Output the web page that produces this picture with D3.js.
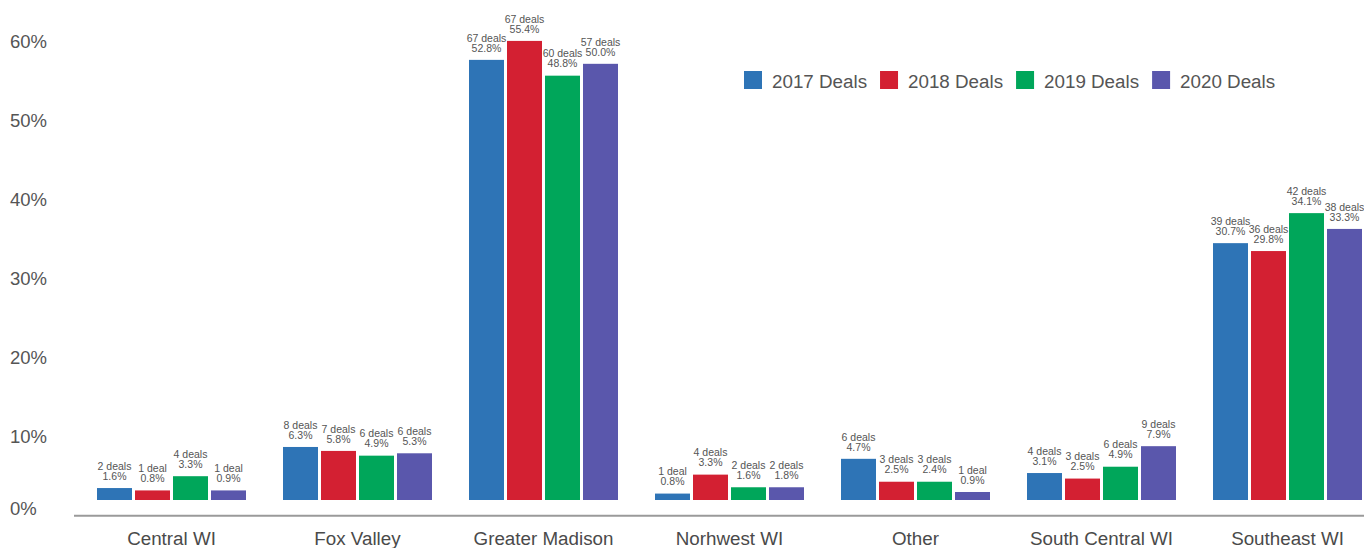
<!DOCTYPE html>
<html>
<head>
<meta charset="utf-8">
<script src="https://cdn.jsdelivr.net/npm/d3@7"></script>
<style>
  html, body { margin: 0; padding: 0; background: #ffffff; }
  svg { display: block; font-family: "Liberation Sans", Arial, Helvetica, sans-serif; }
</style>
</head>
<body>
<svg id="chart" width="1364" height="548"></svg>
<script>
// ---- data ----
const categories = ["Central WI", "Fox Valley", "Greater Madison", "Norhwest WI", "Other", "South Central WI", "Southeast WI"];
const seriesNames = ["2017 Deals", "2018 Deals", "2019 Deals", "2020 Deals"];
const seriesColors = ["#2e74b6", "#d32032", "#00a65a", "#5a57ac"];
const yTicks = [0, 10, 20, 30, 40, 50, 60];

// bar heights as read against the y axis (percent)
const bars2017 = [3.5, 8.7, 57.7, 2.8, 7.2, 5.4, 34.5];
const bars2018 = [3.2, 8.2, 60.1, 5.2, 4.3, 4.7, 33.5];
const bars2019 = [5.0, 7.6, 55.7, 3.6, 4.3, 6.2, 38.3];
const bars2020 = [3.2, 7.9, 57.2, 3.6, 3.0, 8.8, 36.3];

// deal counts and printed shares
const deals2017 = [2, 8, 67, 1, 6, 4, 39];
const deals2018 = [1, 7, 67, 4, 3, 3, 36];
const deals2019 = [4, 6, 60, 2, 3, 6, 42];
const deals2020 = [1, 6, 57, 2, 1, 9, 38];
const pct2017 = [1.6, 6.3, 52.8, 0.8, 4.7, 3.1, 30.7];
const pct2018 = [0.8, 5.8, 55.4, 3.3, 2.5, 2.5, 29.8];
const pct2019 = [3.3, 4.9, 48.8, 1.6, 2.4, 4.9, 34.1];
const pct2020 = [0.9, 5.3, 50.0, 1.8, 0.9, 7.9, 33.3];

const barSets = [bars2017, bars2018, bars2019, bars2020];
const dealSets = [deals2017, deals2018, deals2019, deals2020];
const pctSets = [pct2017, pct2018, pct2019, pct2020];

// ---- layout ----
const svg = d3.select("#chart");
const textColor = "#555555";

const x0 = d3.scaleBand().domain(categories).range([78.5, 1380.5]).paddingInner(0).paddingOuter(0);
const x1 = d3.scaleBand().domain(seriesNames).range([18.5, 167.5]).paddingInner(3 / 38).paddingOuter(0);
const y = d3.scaleLinear().domain([0, 60]).range([515.7, 41.7]);
const barBase = y(0) - 15.7;

// y tick labels
svg.append("g").selectAll("text")
  .data(yTicks)
  .join("text")
  .attr("x", 10)
  .attr("y", d => d === 0 ? y(d) - 6.7 : y(d))
  .attr("dy", "0.35em")
  .attr("font-size", 18.5)
  .attr("fill", textColor)
  .text(d => d + "%");

// axis line
svg.append("line")
  .attr("x1", 74).attr("x2", 1364)
  .attr("y1", y(0)).attr("y2", y(0))
  .attr("stroke", "#9a9a9a").attr("stroke-width", 2);

// bars
const rows = [];
categories.forEach((c, i) => {
  seriesNames.forEach((s, j) => {
    rows.push({ cat: c, series: s, j: j, v: barSets[j][i], deals: dealSets[j][i], pct: pctSets[j][i] });
  });
});

const g = svg.append("g");
g.selectAll("rect")
  .data(rows)
  .join("rect")
  .attr("x", d => x0(d.cat) + x1(d.series))
  .attr("y", d => y(d.v))
  .attr("width", x1.bandwidth())
  .attr("height", d => barBase - y(d.v))
  .attr("fill", d => seriesColors[d.j]);

// value labels
const lbl = g.selectAll("g.lbl")
  .data(rows)
  .join("g")
  .attr("class", "lbl")
  .attr("transform", d => `translate(${x0(d.cat) + x1(d.series) + x1.bandwidth() / 2},${y(d.v)})`);
lbl.append("text")
  .attr("text-anchor", "middle")
  .attr("y", -22).attr("dy", "0.35em")
  .attr("font-size", 10.5).attr("fill", textColor)
  .text(d => d.deals + (d.deals === 1 ? " deal" : " deals"));
lbl.append("text")
  .attr("text-anchor", "middle")
  .attr("y", -12).attr("dy", "0.35em")
  .attr("font-size", 10.5).attr("fill", textColor)
  .text(d => d.pct.toFixed(1) + "%");

// category labels
svg.append("g").selectAll("text")
  .data(categories)
  .join("text")
  .attr("x", d => x0(d) + x0.bandwidth() / 2)
  .attr("y", 545)
  .attr("text-anchor", "middle")
  .attr("font-size", 18.8)
  .attr("fill", "#4a4a4a")
  .text(d => d);

// legend
const legend = svg.append("g");
let lx = 744;
seriesNames.forEach((s, j) => {
  legend.append("rect")
    .attr("x", lx).attr("y", 71)
    .attr("width", 18).attr("height", 18)
    .attr("fill", seriesColors[j]);
  const t = legend.append("text")
    .attr("x", lx + 28).attr("y", 88.3)
    .attr("font-size", 18.8)
    .attr("fill", textColor)
    .text(s);
  lx += 28 + t.node().getComputedTextLength() + 13;
});
</script>
</body>
</html>
